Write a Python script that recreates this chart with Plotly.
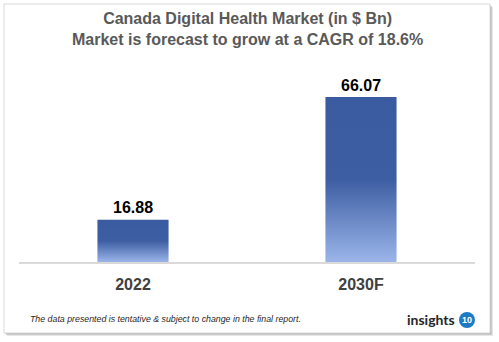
import plotly.graph_objects as go

categories = ["2022", "2030F"]
values = [16.88, 66.07]
title_lines = ["Canada Digital Health Market (in $ Bn)", "Market is forecast to grow at a CAGR of 18.6%"]
footnote = "The data presented is tentative & subject to change in the final report."

W, H = 499, 342
L, R, T, B = 19, 24, 80, 80
PX_PER_UNIT = 2.497
y_max = (H - T - B) / PX_PER_UNIT
half = 0.156

def px(x):
    return (x - L) / (W - L - R)

def py(y):
    return (H - B - y) / (H - T - B)

fig = go.Figure()

for i, v in enumerate(values):
    fig.add_trace(go.Scatter(
        x=[i - half, i + half, i + half, i - half, i - half],
        y=[0, 0, v, v, 0],
        mode="lines", line=dict(width=0), fill="toself",
        fillgradient=dict(type="vertical",
                          colorscale=[[0, "#9bb5ea"], [0.5, "#3d5ea2"], [1, "#3a5ba0"]]),
        hoverinfo="skip", showlegend=False,
    ))

shapes = []
# shadow
for k, (op, d) in enumerate([(0.18, 3), (0.25, 2), (0.35, 1)]):
    shapes.append(dict(type="rect", xref="paper", yref="paper", layer="below",
                       x0=px(4 + d), x1=px(490 + d), y0=py(333 + d), y1=py(4 + d),
                       line=dict(width=0), fillcolor=f"rgba(120,120,120,{op})"))
shapes.append(dict(type="rect", xref="paper", yref="paper", layer="below",
                   x0=px(4), x1=px(490), y0=py(333), y1=py(4),
                   line=dict(width=1, color="#d9d9d9"), fillcolor="#ffffff"))
# logo circle
shapes.append(dict(type="circle", xref="paper", yref="paper",
                   x0=px(459), x1=px(475), y0=py(328), y1=py(312),
                   line=dict(width=0), fillcolor="#1f7ac4"))

annotations = [
    dict(xref="paper", yref="paper", x=px(247), y=py(29), text="<b>" + title_lines[0] + "</b><br><b>" + title_lines[1] + "</b>",
         showarrow=False, xanchor="center", yanchor="middle",
         font=dict(family="Liberation Sans, Arial", size=16, color="#595959")),
    dict(xref="paper", yref="paper", x=px(28), y=py(319), text="<i>" + footnote + "</i>",
         showarrow=False, xanchor="left", yanchor="middle",
         font=dict(family="Liberation Sans", size=8.8, color="#262626")),
    dict(xref="paper", yref="paper", x=px(457), y=py(319), text="<b>insights</b>",
         showarrow=False, xanchor="right", yanchor="middle",
         font=dict(family="Lato, Liberation Sans", size=14, color="#262626")),
    dict(xref="paper", yref="paper", x=px(467), y=py(320), text="<b>10</b>",
         showarrow=False, xanchor="center", yanchor="middle",
         font=dict(family="Liberation Sans", size=9, color="#ffffff")),
]
for i, v in enumerate(values):
    annotations.append(dict(xref="x", yref="y", x=i, y=v, text=f"<b>{v:.2f}</b>",
                            showarrow=False, xanchor="center", yanchor="middle", yshift=12,
                            font=dict(family="Liberation Sans, Arial", size=16, color="#000000")))

fig.update_layout(
    width=W, height=H,
    margin=dict(l=L, r=R, t=T, b=B),
    paper_bgcolor="#ffffff", plot_bgcolor="rgba(0,0,0,0)",
    shapes=shapes, annotations=annotations,
    xaxis=dict(range=[-0.5, 1.5], tickvals=list(range(len(categories))),
               ticktext=["<b>" + c + "</b>" for c in categories],
               tickfont=dict(family="Liberation Sans, Arial", size=16, color="#404040"),
               showgrid=False, zeroline=False, showline=True, linecolor="#d9d9d9", linewidth=2,
               ticks="", ticklabelstandoff=7, fixedrange=True),
    yaxis=dict(range=[0, y_max], visible=False, showgrid=False, fixedrange=True),
)

fig.write_html("out.html")
